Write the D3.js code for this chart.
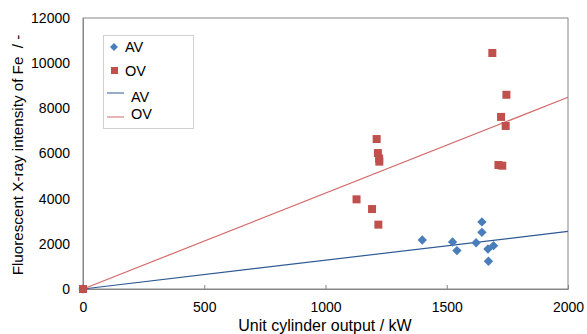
<!DOCTYPE html>
<html>
<head>
<meta charset="utf-8">
<script src="https://cdn.jsdelivr.net/npm/d3@7"></script>
<style>
  body { margin: 0; background: #fff; }
  svg text { font-family: "Liberation Sans", Arial, sans-serif; fill: #000; white-space: pre; }
</style>
</head>
<body>
<div id="canvas"></div>
<script>
const w = 587, h = 334;
const margin = {top: 18, right: 19, bottom: 45, left: 83};

// measured data
const avX = [0, 1399, 1524, 1542, 1621, 1645, 1645, 1670, 1693, 1672];
const avY = [0, 2170, 2080, 1700, 2050, 2970, 2510, 1770, 1920, 1230];
const ovX = [0, 1128, 1192, 1218, 1211, 1216, 1221, 1222, 1688, 1746, 1724, 1743, 1713, 1729];
const ovY = [0, 3970, 3540, 2850, 6640, 6020, 5780, 5640, 10450, 8600, 7620, 7220, 5490, 5460];
const trendX = [0, 2000];
const avTrend = [0, 2550];
const ovTrend = [0, 8490];
const xTicks = [0, 500, 1000, 1500, 2000];
const yTicks = [0, 2000, 4000, 6000, 8000, 10000, 12000];

const blue = "#4a7ebb", red = "#c0504d", avLine = "#2e5a94", ovLine = "#d46a6a", axisCol = "#868686";

let svg = d3.select("#canvas")
            .append("svg")
                .attr("width", w)
                .attr("height", h)
                .attr("viewBox", [0, 0, w, h]);

let x = d3.scaleLinear().domain([0, 2000]).range([margin.left, w - margin.right]);
let y = d3.scaleLinear().domain([0, 12000]).range([h - margin.bottom, margin.top]);

// frame
svg.append("rect")
    .attr("x", x(0)).attr("y", y(12000))
    .attr("width", x(2000) - x(0)).attr("height", y(0) - y(12000))
    .attr("fill", "none").attr("stroke", axisCol).attr("stroke-width", 1);

let xAxis = d3.axisBottom(x).tickValues(xTicks).tickSize(-4).tickPadding(10).tickSizeOuter(0)
            .tickFormat(d3.format("d"));
let gX = svg.append("g").attr("transform", "translate(0," + y(0) + ")").call(xAxis);
gX.selectAll("line, path").attr("stroke", axisCol);
gX.selectAll("text").attr("font-size", 14).attr("dy", "0.9em");

let yAxis = d3.axisLeft(y).tickValues(yTicks).tickSize(0).tickPadding(13).tickFormat(d3.format("d"));
let gY = svg.append("g").attr("transform", "translate(" + x(0) + ",0)").call(yAxis);
gY.selectAll("line, path").attr("stroke", axisCol);
gY.selectAll("text").attr("font-size", 14);

// trend lines
let line = d3.line().x(d => x(d[0])).y(d => y(d[1]));
svg.append("path").datum(d3.zip(trendX, avTrend)).attr("d", line)
    .attr("stroke", avLine).attr("stroke-width", 1.2).attr("fill", "none");
svg.append("path").datum(d3.zip(trendX, ovTrend)).attr("d", line)
    .attr("stroke", ovLine).attr("stroke-width", 1.2).attr("fill", "none");

// points
let diamond = d3.symbol().type(d3.symbolDiamond2).size(56);
svg.append("g").selectAll("path")
    .data(d3.zip(avX, avY))
    .enter().append("path")
        .attr("d", diamond)
        .attr("transform", d => "translate(" + x(d[0]) + "," + y(d[1]) + ")")
        .attr("fill", blue);

svg.append("g").selectAll("rect")
    .data(d3.zip(ovX, ovY))
    .enter().append("rect")
        .attr("x", d => x(d[0]) - 4)
        .attr("y", d => y(d[1]) - 4)
        .attr("width", 8).attr("height", 8)
        .attr("fill", red);

// legend
let lg = svg.append("g");
lg.append("rect").attr("x", 103.5).attr("y", 35.5).attr("width", 90).attr("height", 93)
    .attr("fill", "#fff").attr("stroke", "#d0d0d0");
lg.append("path").attr("d", d3.symbol().type(d3.symbolDiamond2).size(40))
    .attr("transform", "translate(114,47)").attr("fill", blue);
lg.append("rect").attr("x", 111).attr("y", 67).attr("width", 7).attr("height", 7).attr("fill", red);
lg.append("line").attr("x1", 107).attr("x2", 124).attr("y1", 93).attr("y2", 93).attr("stroke", avLine);
lg.append("line").attr("x1", 107).attr("x2", 124).attr("y1", 117).attr("y2", 117).attr("stroke", ovLine);
[["AV", 125, 47], ["OV", 125, 71], ["AV", 131, 97], ["OV", 131, 114]].forEach(t => {
    lg.append("text").attr("x", t[1]).attr("y", t[2]).attr("dy", "0.35em")
        .attr("font-size", 14.5).text(t[0]);
});

// axis titles
svg.append("text").attr("x", 325).attr("y", 331).attr("text-anchor", "middle")
    .attr("font-size", 16).text("Unit cylinder output / kW");
svg.append("text").attr("transform", "translate(23,155) rotate(-90)").attr("text-anchor", "middle")
    .attr("font-size", 15.2).text("Fluorescent X-ray intensity of Fe  / -");
</script>
</body>
</html>
